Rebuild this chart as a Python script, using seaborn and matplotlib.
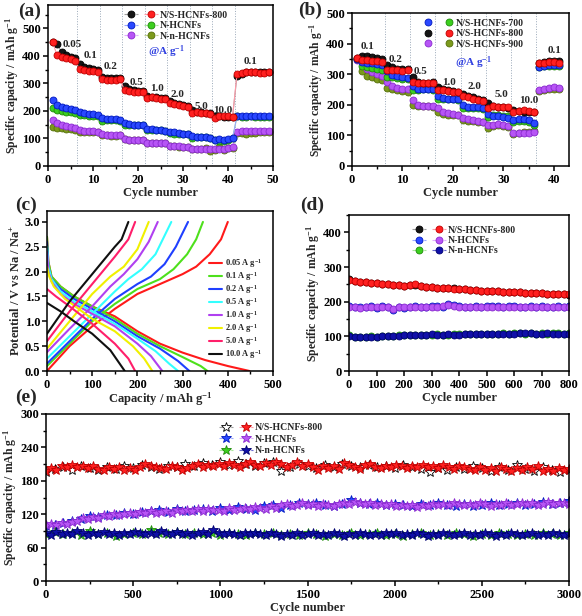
import matplotlib
matplotlib.use('Agg')
import matplotlib.pyplot as plt
import numpy as np
import seaborn as sns
from matplotlib.legend_handler import HandlerTuple
from matplotlib.lines import Line2D
from matplotlib.ticker import MultipleLocator

# ---- (a) rate capability, three samples (charge / discharge) ----
cycles_a = np.arange(1, 50)
black_a = [452, 445, 413, 405, 397, 392, 372, 360, 355, 352, 350, 325, 320, 318, 318, 318,
           292, 278, 275, 273, 272, 255, 252, 250, 248, 246, 236, 230, 225, 221, 218,
           205, 198, 195, 194, 193, 182, 180, 178, 178, 177, 328, 336, 340, 342, 343, 342, 340, 340]
red_a = [452, 402, 395, 392, 387, 383, 352, 348, 346, 345, 343, 315, 313, 314, 313, 315,
         275, 271, 270, 270, 268, 248, 250, 247, 245, 242, 228, 225, 220, 218, 215,
         192, 195, 193, 192, 190, 175, 182, 183, 180, 178, 335, 338, 340, 341, 340, 338, 338, 340]
blue_a = [240, 220, 215, 212, 208, 205, 195, 193, 190, 188, 187, 175, 172, 170, 170, 168,
          155, 152, 150, 150, 148, 135, 133, 130, 130, 128, 125, 122, 120, 118, 116,
          108, 106, 105, 104, 100, 95, 97, 95, 98, 100, 182, 180, 180, 180, 181, 180, 180, 180]
green_a = [210, 203, 200, 198, 195, 192, 185, 185, 183, 183, 182, 165, 166, 167, 167, 165,
           148, 148, 148, 150, 148, 132, 130, 130, 130, 128, 120, 118, 117, 117, 115,
           103, 104, 104, 104, 102, 95, 92, 92, 93, 100, 180, 179, 179, 180, 179, 179, 178, 178]
violet_a = [168, 155, 150, 145, 140, 137, 130, 128, 127, 126, 125, 115, 113, 112, 112, 112,
            98, 96, 95, 95, 94, 85, 84, 83, 83, 82, 72, 72, 71, 70, 70,
            63, 62, 62, 63, 60, 60, 62, 60, 65, 70, 125, 126, 127, 128, 128, 128, 127, 128]
olive_a = [142, 138, 137, 135, 133, 130, 125, 125, 124, 124, 123, 112, 112, 110, 110, 112,
           97, 95, 95, 95, 93, 83, 82, 82, 82, 82, 72, 72, 70, 70, 70,
           62, 62, 63, 65, 55, 58, 68, 58, 65, 65, 120, 120, 118, 120, 121, 122, 122, 122]
rates_a = ['0.05', '0.1', '0.2', '0.5', '1.0', '2.0', '5.0', '10.0', '0.1']
rate_x_a = [5.3, 9.5, 14.0, 19.6, 24.2, 28.8, 34.0, 38.8, 45.0]
rate_y_a = [440, 400, 362, 302, 280, 258, 218, 202, 380]
bounds_a = [6.5, 11.5, 16.5, 21.5, 26.5, 31.5, 36.5, 41.5]

# ---- (b) rate capability, three carbonisation temperatures ----
cycles_b = np.arange(1, 42)
black_b = [352, 360, 358, 355, 352, 350, 330, 322, 318, 317, 318, 290, 275, 272, 272, 273,
           258, 250, 247, 245, 243, 236, 230, 225, 220, 215, 205, 195, 192, 192, 190,
           182, 180, 178, 178, 177, 335, 340, 342, 343, 342]
red_b = [352, 348, 345, 343, 342, 340, 315, 313, 314, 312, 313, 275, 272, 271, 270, 270,
         248, 248, 245, 243, 242, 228, 225, 220, 215, 212, 190, 195, 193, 192, 192,
         175, 180, 182, 180, 178, 335, 338, 340, 340, 338]
blue_b = [350, 340, 338, 335, 333, 330, 310, 298, 293, 290, 288, 262, 250, 250, 250, 250,
          230, 222, 220, 220, 218, 200, 193, 192, 192, 190, 170, 165, 162, 160, 158,
          150, 152, 152, 150, 140, 322, 328, 330, 330, 330]
green_b = [350, 328, 325, 320, 318, 315, 290, 290, 288, 285, 283, 248, 248, 250, 250, 248,
           218, 218, 218, 218, 215, 188, 190, 190, 188, 185, 160, 168, 167, 165, 162,
           145, 148, 148, 145, 135, 325, 328, 328, 328, 327]
violet_b = [348, 340, 318, 308, 300, 295, 275, 262, 255, 252, 250, 215, 198, 197, 195, 195,
            188, 178, 172, 170, 168, 158, 152, 150, 148, 145, 135, 135, 137, 133, 130,
            108, 108, 108, 108, 110, 248, 252, 255, 257, 255]
olive_b = [350, 310, 295, 290, 283, 280, 255, 252, 248, 245, 243, 200, 197, 195, 195, 193,
           178, 170, 168, 167, 167, 150, 148, 148, 145, 143, 125, 130, 135, 130, 128,
           105, 108, 110, 112, 115, 245, 248, 250, 250, 250]
rates_b = ['0.1', '0.2', '0.5', '1.0', '2.0', '5.0', '10.0', '0.1']
rate_x_b = [3.0, 8.6, 13.6, 19.2, 24.2, 29.7, 35.0, 40.1]
rate_y_b = [390, 349, 308, 272, 259, 234, 213, 377]
bounds_b = [6.5, 11.5, 16.5, 21.5, 26.5, 31.5, 36.5]

# ---- (c) charge / discharge profiles ----
rate_c = ['0.05', '0.1', '0.2', '0.5', '1.0', '2.0', '5.0', '10.0']
colors_c = ['#ff1a1a', '#4ee01c', '#1f3fff', '#33ffff', '#b040f0', '#f0f000', '#ff1f6a', '#101010']
dis_cap = [[0, 3, 10, 30, 60, 100, 150, 200, 250, 300, 350, 400, 448],
           [0, 3, 10, 30, 60, 100, 150, 200, 250, 300, 340, 355],
           [0, 3, 10, 30, 60, 100, 150, 200, 250, 290, 315],
           [0, 3, 10, 30, 60, 100, 150, 200, 240, 270, 290],
           [0, 3, 10, 30, 60, 100, 150, 200, 230, 255],
           [0, 5, 15, 40, 70, 100, 150, 190, 215, 233],
           [0, 20, 50, 100, 150, 180, 195],
           [0, 30, 60, 100, 140, 172]]
dis_v = [[2.7, 2.2, 1.9, 1.7, 1.5, 1.3, 1.1, 0.8, 0.55, 0.37, 0.22, 0.1, 0.0],
         [2.7, 2.2, 1.9, 1.7, 1.5, 1.3, 1.05, 0.75, 0.5, 0.28, 0.1, 0.0],
         [2.6, 2.1, 1.85, 1.65, 1.45, 1.25, 1.0, 0.7, 0.45, 0.2, 0.0],
         [2.5, 2.1, 1.85, 1.6, 1.4, 1.2, 0.95, 0.65, 0.4, 0.15, 0.0],
         [2.4, 2.0, 1.8, 1.55, 1.35, 1.15, 0.9, 0.55, 0.3, 0.0],
         [2.1, 1.9, 1.7, 1.45, 1.25, 1.05, 0.8, 0.5, 0.25, 0.0],
         [1.65, 1.5, 1.3, 0.95, 0.55, 0.25, 0.0],
         [1.37, 1.2, 1.0, 0.75, 0.42, 0.0]]
chg_cap = [[0, 50, 100, 150, 200, 250, 300, 330, 360, 385, 400],
           [0, 50, 100, 150, 200, 250, 280, 310, 330, 345],
           [0, 50, 100, 150, 200, 230, 260, 285, 312],
           [0, 50, 100, 150, 180, 210, 240, 275],
           [0, 50, 100, 140, 170, 200, 225, 245],
           [0, 50, 100, 140, 170, 200, 225],
           [0, 50, 100, 150, 180, 195],
           [0, 50, 100, 150, 165, 180]]
chg_v = [[0.0, 0.5, 0.9, 1.25, 1.55, 1.75, 1.95, 2.1, 2.35, 2.65, 3.0],
         [0.1, 0.55, 1.0, 1.35, 1.65, 1.85, 2.05, 2.35, 2.65, 3.0],
         [0.15, 0.6, 1.05, 1.45, 1.75, 1.9, 2.15, 2.5, 3.0],
         [0.25, 0.7, 1.15, 1.6, 1.85, 2.05, 2.35, 3.0],
         [0.38, 0.85, 1.3, 1.7, 1.95, 2.25, 2.6, 3.0],
         [0.45, 1.0, 1.55, 1.9, 2.1, 2.45, 3.0],
         [0.6, 1.2, 1.75, 2.3, 2.65, 3.0],
         [0.75, 1.4, 1.95, 2.5, 2.65, 3.0]]

# ---- (d) cycling at 0.2 A g-1 (every 20 cycles) ----
black_d = [265, 260, 258, 256, 255, 253, 252, 250, 249, 247, 246, 249, 248, 245, 243, 241, 240,
           239, 238, 238, 236, 236, 234, 234, 232, 231, 231, 230, 229, 228, 228, 227, 226, 225,
           225, 224, 223, 222, 222, 221, 220]
red_d = [262, 259, 257, 256, 254, 253, 251, 250, 248, 247, 246, 247, 250, 244, 243, 242, 240,
         239, 238, 237, 237, 236, 235, 233, 232, 231, 231, 230, 229, 229, 228, 227, 226, 226,
         225, 224, 223, 223, 222, 221, 221]
blue_d = [187, 186, 185, 186, 187, 182, 188, 185, 176, 184, 183, 186, 187, 186, 184, 187, 188,
          186, 192, 190, 187, 185, 186, 187, 186, 187, 187, 188, 186, 187, 187, 186, 186, 187,
          186, 187, 186, 186, 187, 186, 188]
violet_d = [185, 184, 183, 185, 186, 184, 185, 184, 178, 186, 184, 185, 186, 185, 185, 186, 186,
            187, 190, 188, 186, 186, 185, 186, 185, 186, 186, 186, 185, 186, 186, 186, 185, 186,
            185, 186, 185, 185, 186, 185, 186]
green_d = [103, 98, 97, 99, 100, 99, 101, 100, 102, 103, 103, 104, 105, 103, 104, 105, 106, 105,
           105, 106, 106, 107, 106, 107, 108, 107, 108, 108, 109, 108, 109, 109, 108, 110, 108,
           109, 108, 109, 109, 108, 109]
navy_d = [100, 97, 97, 98, 99, 98, 100, 101, 101, 102, 104, 103, 104, 104, 105, 106, 105, 104,
          106, 105, 105, 106, 106, 107, 107, 108, 108, 107, 107, 108, 108, 109, 109, 109, 108,
          108, 109, 108, 108, 108, 108]

# ---- (e) long cycling at high rate ----
black_e = [196, 202, 205, 200, 207, 203, 199, 204, 201, 206, 203, 209, 205, 201, 207, 204, 210,
           206, 212, 208, 213, 209, 216, 210, 207, 212, 214, 197, 204, 210, 206, 203, 208, 205,
           210, 206, 204, 208, 205, 207, 203, 209, 205, 201, 196, 203, 200, 205, 201, 207, 203,
           198, 205, 200, 208, 202, 198, 204, 200, 196, 199]
red_e = [198, 203, 200, 206, 204, 209, 205, 207, 203, 206, 202, 199, 204, 201, 205, 200, 203,
         199, 204, 210, 207, 205, 203, 201, 206, 204, 200, 203, 207, 211, 205, 209, 207, 211,
         206, 212, 208, 205, 210, 213, 209, 207, 212, 208, 214, 210, 205, 209, 213, 207, 211,
         204, 200, 206, 203, 207, 202, 212, 209, 204, 202, 208, 211, 205, 203, 207, 204, 209,
         206, 203, 207, 205, 208, 204, 206, 203, 209, 205, 202, 207, 204, 201, 199, 204, 200,
         203, 198, 205, 201, 197, 203, 199, 204, 201, 206, 198, 202, 197, 203, 199, 201]
blue_e = [98, 100, 104, 107, 112, 116, 115, 119, 118, 122, 121, 124, 125, 127, 124, 129, 126,
          128, 130, 126, 131, 128, 133, 130, 127, 135, 137, 132, 136, 140, 138, 141, 137, 135,
          139, 145, 140, 138, 141, 136, 139, 137, 134, 138, 136, 140, 137, 135, 139, 134, 137,
          140, 136, 138, 141, 137, 139, 142, 138, 140, 143]
violet_e = [100, 102, 101, 104, 103, 106, 108, 113, 112, 115, 114, 118, 116, 120, 118, 121, 123,
            120, 124, 122, 125, 123, 124, 126, 122, 127, 125, 128, 126, 129, 125, 130, 127, 128,
            126, 131, 128, 130, 132, 129, 133, 131, 130, 134, 132, 136, 138, 135, 137, 140, 136,
            138, 135, 139, 137, 134, 138, 141, 139, 142, 140, 138, 141, 137, 139, 136, 138, 135,
            137, 134, 136, 133, 137, 135, 138, 136, 139, 137, 140, 138, 136, 139, 137, 141, 138,
            135, 139, 137, 140, 136, 139, 141, 138, 140, 137, 139, 142, 138, 140, 141, 139]
green_e = [85, 88, 84, 87, 83, 89, 85, 86, 80, 84, 87, 85, 92, 86, 84, 88, 85, 87, 84, 86, 83,
           87, 84, 82, 86, 84, 87, 82, 85, 83, 86, 84, 81, 85, 83, 86, 82, 84, 87, 83, 85, 80,
           84, 86, 83, 85, 82, 86, 84, 81, 85, 83, 86, 84, 82, 85, 83, 86, 84, 82, 86]
navy_e = [86, 83, 88, 85, 87, 84, 89, 86, 83, 87, 85, 88, 84, 86, 82, 87, 85, 88, 86, 84, 87,
          85, 89, 86, 84, 88, 85, 87, 83, 86, 88, 85, 91, 86, 84, 87, 85, 83, 86, 84, 87, 85,
          82, 86, 84, 80, 85, 83, 86, 82, 84, 87, 83, 85, 82, 86, 84, 81, 85, 83, 86, 84, 82,
          85, 83, 86, 84, 87, 83, 85, 82, 86, 84, 81, 85, 83, 86, 84, 82, 85, 87, 83, 85, 82,
          86, 84, 81, 85, 83, 86, 84, 82, 85, 87, 83, 85, 82, 86, 84, 83, 85]

# Colours (marker face, marker edge, connecting line).
C = {
    'black': ('#151515', '#000000', '#a0a0a0'),
    'red': ('#ff2020', '#c00000', '#ff9aa8'),
    'blue': ('#2a48ff', '#0018c0', '#9aa8ff'),
    'green': ('#3ccf1e', '#1f8a0a', '#a8e89a'),
    'violet': ('#b755f5', '#8a2ad0', '#e0b0ff'),
    'olive': ('#7c9a1c', '#55700a', '#c0d090'),
    'navy': ('#1010a8', '#000070', '#6a6ad0'),
}

sns.set_theme(style='ticks')
plt.rcParams.update({
    'font.family': ['Liberation Serif', 'DejaVu Serif'],
    'font.weight': 'bold',
    'axes.labelweight': 'bold',
    'mathtext.fontset': 'custom',
    'mathtext.rm': 'Liberation Serif:bold',
    'mathtext.it': 'Liberation Serif:bold',
    'mathtext.bf': 'Liberation Serif:bold',
    'axes.linewidth': 1.1,
    'axes.edgecolor': 'black',
    'xtick.color': 'black', 'ytick.color': 'black',
    'xtick.direction': 'out', 'ytick.direction': 'out',
    'xtick.major.size': 3.5, 'ytick.major.size': 3.5,
    'xtick.minor.size': 2, 'ytick.minor.size': 2,
    'xtick.major.width': 1.1, 'ytick.major.width': 1.1,
    'xtick.minor.width': 1.0, 'ytick.minor.width': 1.0,
    'xtick.major.pad': 2, 'ytick.major.pad': 1.5,
    'xtick.labelsize': 9, 'ytick.labelsize': 9,
    'axes.labelsize': 9,
    'legend.fontsize': 7,
})

fig = plt.figure(figsize=(5.82, 6.16), dpi=100)
W, H = 582.0, 616.0


def rect(x0, y0, x1, y1):
    return [x0 / W, 1 - y1 / H, (x1 - x0) / W, (y1 - y0) / H]


ax_a = fig.add_axes(rect(48, 5, 273, 166))
ax_b = fig.add_axes(rect(352, 13, 569, 166))
ax_c = fig.add_axes(rect(47, 211, 273, 371))
ax_d = fig.add_axes(rect(349, 215, 569, 371))
ax_e = fig.add_axes(rect(46, 414, 569, 581))

cap_label = 'Specific capacity / mAh g$^{-1}$'


def series(ax, x, y, key, marker='o', ms=5, lw=0.8, mfc=None):
    face, edge, line = C[key]
    sns.lineplot(x=x, y=y, ax=ax, color=line, linewidth=lw, marker=marker, markersize=ms,
                 markerfacecolor=face if mfc is None else mfc, markeredgecolor=edge,
                 markeredgewidth=0.6, estimator=None, sort=False, legend=False)


def handle(key, marker='o', ms=5, mfc=None, line=True):
    face, edge, lc = C[key]
    return Line2D([], [], color=lc, lw=0.8, linestyle='--' if line else 'None', marker=marker,
                  markersize=ms, markerfacecolor=face if mfc is None else mfc,
                  markeredgecolor=edge, markeredgewidth=0.6)


def clean(ax):
    for s in ax.spines.values():
        s.set_visible(True)
        s.set_color('black')
    ax.tick_params(top=False, right=False)
    ax.tick_params(which='minor', top=False, right=False)


# (a)
for b in bounds_a:
    ax_a.axvline(b, color='#9aa8b8', lw=0.7, ls=':')
for k, vals in [('olive', olive_a), ('violet', violet_a), ('green', green_a),
                ('blue', blue_a), ('black', black_a), ('red', red_a)]:
    series(ax_a, cycles_a, vals, k)
for t, x, y in zip(rates_a, rate_x_a, rate_y_a):
    ax_a.text(x, y, t, ha='center', va='center', fontsize=8, fontweight='bold')
ax_a.text(26.4, 414, '@A g$^{-1}$', ha='center', va='center', fontsize=8, color='#3040e0')
ax_a.set_xlim(0, 50)
ax_a.set_ylim(0, 585)
ax_a.xaxis.set_major_locator(MultipleLocator(10))
ax_a.xaxis.set_minor_locator(MultipleLocator(5))
ax_a.yaxis.set_major_locator(MultipleLocator(100))
ax_a.yaxis.set_minor_locator(MultipleLocator(50))
ax_a.set_xlabel('Cycle number', labelpad=1)
ax_a.set_ylabel(cap_label, labelpad=1, fontsize=8.5)
ax_a.legend([(handle('black'), handle('red')), (handle('blue'), handle('green')),
             (handle('violet'), handle('olive'))],
            ['N/S-HCNFs-800', 'N-HCNFs', 'N-n-HCNFs'],
            handler_map={tuple: HandlerTuple(ndivide=None, pad=0.6)},
            loc='upper left', bbox_to_anchor=(0.31, 1.0), frameon=False, handlelength=3.5,
            handletextpad=0.2, labelspacing=0.15, borderaxespad=0.2)
clean(ax_a)

# (b)
for b in bounds_b:
    ax_b.axvline(b, color='#9aa8b8', lw=0.7, ls=':')
for k, vals in [('olive', olive_b), ('violet', violet_b), ('green', green_b),
                ('blue', blue_b), ('black', black_b), ('red', red_b)]:
    series(ax_b, cycles_b, vals, k, lw=0)
for t, x, y in zip(rates_b, rate_x_b, rate_y_b):
    ax_b.text(x, y, t, ha='center', va='center', fontsize=8, fontweight='bold')
ax_b.text(24.0, 339, '@A g$^{-1}$', ha='center', va='center', fontsize=8, color='#3040e0')
ax_b.set_xlim(0, 43)
ax_b.set_ylim(0, 500)
ax_b.xaxis.set_major_locator(MultipleLocator(10))
ax_b.xaxis.set_minor_locator(MultipleLocator(5))
ax_b.yaxis.set_major_locator(MultipleLocator(100))
ax_b.yaxis.set_minor_locator(MultipleLocator(50))
ax_b.set_xlabel('Cycle number', labelpad=1)
ax_b.set_ylabel(cap_label, labelpad=1, fontsize=8.3)
ax_b.legend([(handle('blue', line=False), handle('green', line=False)),
             (handle('black', line=False), handle('red', line=False)),
             (handle('violet', line=False), handle('olive', line=False))],
            ['N/S-HCNFs-700', 'N/S-HCNFs-800', 'N/S-HCNFs-900'],
            handler_map={tuple: HandlerTuple(ndivide=None, pad=1.2)},
            loc='upper left', bbox_to_anchor=(0.3, 1.0), frameon=False, handlelength=3.2,
            handletextpad=0.2, labelspacing=0.15, borderaxespad=0.2)
clean(ax_b)

# (c)
for i in range(len(rate_c)):
    sns.lineplot(x=dis_cap[i], y=dis_v[i], ax=ax_c, color=colors_c[i], lw=1.5,
                 estimator=None, sort=False, legend=False)
    sns.lineplot(x=chg_cap[i], y=chg_v[i], ax=ax_c, color=colors_c[i], lw=1.5,
                 estimator=None, sort=False, legend=False)
ax_c.legend([Line2D([], [], color=c, lw=1.5) for c in colors_c],
            [r + ' A g$^{-1}$' for r in rate_c], loc='upper left',
            bbox_to_anchor=(0.7, 0.735), frameon=False, handlelength=1.6,
            handletextpad=0.4, labelspacing=0.0, fontsize=6, borderaxespad=0)
ax_c.set_xlim(0, 500)
ax_c.set_ylim(0, 3.22)
ax_c.xaxis.set_major_locator(MultipleLocator(100))
ax_c.xaxis.set_minor_locator(MultipleLocator(50))
ax_c.yaxis.set_major_locator(MultipleLocator(0.5))
ax_c.set_xlabel('Capacity / mAh g$^{-1}$', labelpad=0)
ax_c.set_ylabel('Potential / V vs Na / Na$^{+}$', labelpad=1)
clean(ax_c)

# (d)
cycles_d = np.linspace(0, 800, len(red_d))
for k, vals in [('black', black_d), ('red', red_d), ('blue', blue_d), ('violet', violet_d),
                ('green', green_d), ('navy', navy_d)]:
    series(ax_d, cycles_d, vals, k, ms=5, lw=0.6)
ax_d.legend([(handle('black'), handle('red')), (handle('blue'), handle('violet')),
             (handle('green'), handle('navy'))],
            ['N/S-HCNFs-800', 'N-HCNFs', 'N-n-HCNFs'],
            handler_map={tuple: HandlerTuple(ndivide=None, pad=0.6)},
            loc='upper left', bbox_to_anchor=(0.26, 0.97), frameon=False, handlelength=3.5,
            handletextpad=0.2, labelspacing=0.15, borderaxespad=0.2)
ax_d.set_xlim(0, 800)
ax_d.set_ylim(0, 450)
ax_d.xaxis.set_major_locator(MultipleLocator(100))
ax_d.yaxis.set_major_locator(MultipleLocator(100))
ax_d.yaxis.set_minor_locator(MultipleLocator(50))
ax_d.set_xlabel('Cycle number', labelpad=1)
ax_d.set_ylabel(cap_label, labelpad=1, fontsize=8.5)
clean(ax_d)

# (e)
cyc_back = np.linspace(0, 3000, len(black_e))
cyc_front = np.linspace(0, 3000, len(red_e))
series(ax_e, cyc_back, black_e, 'black', marker='*', ms=7, lw=0.5, mfc='white')
series(ax_e, cyc_front, red_e, 'red', marker='*', ms=7, lw=0.5)
series(ax_e, cyc_back, blue_e, 'blue', marker='*', ms=7, lw=0.5)
series(ax_e, cyc_front, violet_e, 'violet', marker='*', ms=7, lw=0.5)
series(ax_e, cyc_back, green_e, 'green', marker='*', ms=7, lw=0.5)
series(ax_e, cyc_front, navy_e, 'navy', marker='*', ms=7, lw=0.5)
ax_e.legend([(handle('black', '*', 7, 'white'), handle('red', '*', 7)),
             (handle('blue', '*', 7), handle('violet', '*', 7)),
             (handle('green', '*', 7), handle('navy', '*', 7))],
            ['N/S-HCNFs-800', 'N-HCNFs', 'N-n-HCNFs'],
            handler_map={tuple: HandlerTuple(ndivide=None, pad=0.6)},
            loc='upper left', bbox_to_anchor=(0.32, 0.98), frameon=False, handlelength=3.5,
            handletextpad=0.2, labelspacing=0.25, borderaxespad=0.2)
ax_e.set_xlim(0, 3000)
ax_e.set_ylim(0, 300)
ax_e.xaxis.set_major_locator(MultipleLocator(500))
ax_e.xaxis.set_minor_locator(MultipleLocator(250))
ax_e.yaxis.set_major_locator(MultipleLocator(60))
ax_e.yaxis.set_minor_locator(MultipleLocator(30))
ax_e.set_xlabel('Cycle number', labelpad=1)
ax_e.set_ylabel(cap_label, labelpad=1, fontsize=8.5)
clean(ax_e)

# Panel letters
for t, x, y in [('(a)', 18, 11), ('(b)', 298, 10), ('(c)', 15, 205), ('(d)', 300, 205),
                ('(e)', 15, 397)]:
    fig.text(x / W, 1 - y / H, t, ha='left', va='center', fontsize=14, fontweight='bold')

fig.savefig('out.png', dpi=100)
